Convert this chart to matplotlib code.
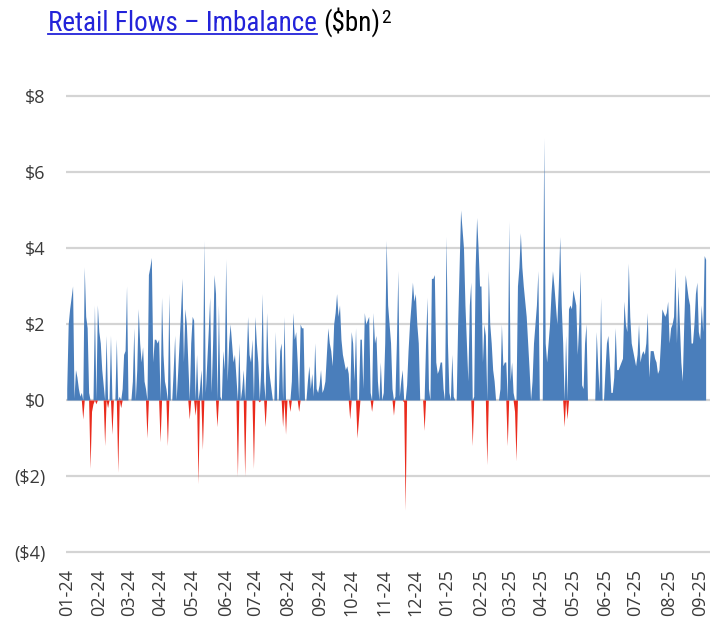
import numpy as np
import pandas as pd
import matplotlib
matplotlib.use("Agg")
import matplotlib.pyplot as plt
from matplotlib import font_manager
from matplotlib.lines import Line2D

# ---------------- data (daily retail flow imbalance, $bn) ----------------
start_date = "2024-01-02"

imbalance_jan_apr24 = [
    0.3, 2.0, 2.4, 2.7, 3.0, 0.05, 0.8, 0.6, 0.3, 0.1,
    0.2, -0.5, 3.5, 2.2, 1.9, 0.2, -1.8, -0.3, -0.1, 2.5,
    -0.1, 2.5, 1.8, 1.5, 0.8, 0.4, -1.2, 1.7, -0.2, 0.0,
    1.7, -0.9, 0.0, 0.0, 1.6, -1.9, 0.1, -0.2, 0.3, 1.2,
    1.3, 3.0, 0.0, 0.0, 0.0, 0.5, 1.9, 0.0, 0.8, 2.4,
    1.5, 1.0, 1.4, 0.5, 0.3, -1.0, 3.3, 3.5, 3.75, 1.0,
    1.6, 1.6, 1.5, 1.6, -1.1, 2.7, 1.2, 0.5, 0.3, -1.2,
    2.8,
]
imbalance_apr_jul24 = [
    0.0, 0.0, 0.8, 1.7, 0.0, 0.7, 1.5, 2.3, 3.2, 1.0,
    2.4, 2.0, 1.0, -0.5, 1.5, 2.2, 2.1, -0.4, 1.2, -2.2,
    0.3, 0.8, -1.3, 4.2, 0.2, 1.0, 1.8, 2.7, 0.2, 1.5,
    3.3, 2.8, -0.7, 2.5, 0.1, 0.0, 1.3, 0.8, 3.7, 0.5,
    1.5, 2.0, 1.5, 1.0, 1.2, 0.6, -2.0, 1.5, 0.0, 0.3,
    0.8, -2.0, 1.0, 2.2, 1.2, 1.0, 1.6, -1.8, 2.2, 1.5,
    1.0, -0.05, 0.8, 2.8, 0.5, -0.7, 2.3, 1.0, 0.6, 0.3,
    0.0, 0.0,
]
imbalance_jul_oct24 = [
    1.8, 0.0, 0.0, 1.3, 1.5, -0.7, 2.2, -0.9, 0.0, 0.0,
    -0.3, 0.5, 2.3, 1.6, 1.8, 1.0, -0.3, 2.0, 1.9, 1.9,
    0.0, 0.0, 0.5, 0.9, 0.3, 0.7, 0.1, 1.5, 0.3, 0.2,
    0.4, 0.8, 0.2, 0.3, 0.5, 1.2, 1.9, 1.5, 1.3, 0.9,
    2.0, 2.3, 2.8, 2.2, 2.5, 1.6, 1.2, 1.0, 0.8, 0.9,
    0.7, -0.5, 1.8, 1.5, 0.5, 1.9, -1.0, -0.5, 1.6, 1.6,
    0.3, 2.3, 2.0, 2.1, 2.2, 0.2, -0.3, 2.3, 1.5,
]
imbalance_nov24_feb25 = [
    1.7, 0.5, 0.0, 1.0, 0.0, 0.2, 1.5, 4.2, 2.5, 2.0,
    1.5, 0.3, -0.4, 0.1, 1.5, 3.4, 0.1, 0.5, 0.8, -0.05,
    -2.9, 0.4, 1.3, 2.0, 2.5, 3.1, 2.6, 2.8, 2.0, 1.5,
    0.0, 0.0, 0.0, -0.8, 1.5, 2.7, 0.3, 0.0, 3.2, 3.2,
    3.3, 1.0, 0.7, 0.8, 1.0, 1.0, 0.3, 0.0, 4.3, 1.5,
    0.2, 0.0, 1.2, 0.1, 0.0, 0.0, 2.0, 3.5, 5.0, 4.5,
    4.0, 2.5, 1.5, 0.5, 2.5, 3.1, -1.2, 0.1, 3.5, 4.8,
    4.0, 3.0,
]
imbalance_feb_may25 = [
    3.0, 1.0, 2.0, 1.7, -1.7, 3.4, 2.0, 1.5, 0.8, 0.5,
    0.0, 0.0, 0.0, 0.3, 2.0, 0.9, 1.0, 1.0, -1.2, 4.7,
    0.5, 1.0, 0.2, -0.3, -1.6, 3.0, 3.5, 4.4, 3.5, 3.0,
    2.6, 2.2, 1.5, 0.8, 0.0, 0.5, 1.5, 2.0, 2.5, 3.4,
    0.0, 0.0, 0.0, 6.9, 1.5, 1.0, 1.5, 2.0, 2.8, 3.4,
    3.0, 2.5, 2.0, 3.0, 4.3, 2.5, 1.5, -0.7, 1.7, -0.5,
    2.4, 2.5, 2.4, 2.9, 2.7, 2.5, 1.2, 2.0, 3.4, 0.4,
    0.3, 1.5,
]
imbalance_may_sep25 = [
    2.0, 0.0, 0.0, 0.0, 0.0, 0.0, 0.0, 1.8, 0.9, 0.2,
    2.7, 0.0, 0.0, 0.8, 1.5, 1.7, 1.0, 0.2, 0.2, 0.6,
    1.9, 0.8, 0.8, 0.9, 1.0, 1.1, 2.6, 2.0, 1.8, 3.6,
    2.2, 1.5, 1.3, 1.1, 0.9, 1.2, 2.0, 1.0, 1.2, 1.3,
    1.2, 1.5, 2.3, 0.6, 1.3, 1.3, 1.3, 1.1, 1.0, 0.7,
    0.8, 1.5, 2.4, 2.3, 2.2, 2.3, 2.6, 1.5, 1.9, 2.0,
    2.2, 3.5, 1.5, 3.0, 2.0, 1.0, 0.5, 2.0, 3.3, 3.0,
    2.7, 2.5, 1.5, 1.5, 2.0, 2.8, 3.1, 1.8, 1.6, 2.5,
    1.8, 3.8, 3.7,
]

y_ticks = [-4, -2, 0, 2, 4, 6, 8]
y_tick_labels = ["($4)", "($2)", "$0", "$2", "$4", "$6", "$8"]
title_main = "Retail Flows – Imbalance "
title_unit = "($bn)"
title_note = "2"

# ---------------- build series ----------------
values = np.array(imbalance_jan_apr24 + imbalance_apr_jul24 + imbalance_jul_oct24
                  + imbalance_nov24_feb25 + imbalance_feb_may25 + imbalance_may_sep25)
dates = pd.bdate_range(start_date, periods=len(values))
x = np.arange(len(values))

months = np.array(dates.to_period("M"))
month_start_idx = np.r_[0, np.nonzero(months[1:] != months[:-1])[0] + 1]
month_labels = [d.strftime("%m-%y") for d in dates[month_start_idx]]

# ---------------- fonts ----------------
available = {f.name for f in font_manager.fontManager.ttflist}
def pick(names):
    for n in names:
        if n in available:
            return n
    return "DejaVu Sans"

tick_font = pick(["Open Sans", "Noto Sans", "DejaVu Sans"])
title_font = pick(["Liberation Sans Narrow", "Roboto Condensed", "DejaVu Sans Condensed",
                   "Roboto", "DejaVu Sans"])

BLUE = "#4A7EBB"
RED = "#EA2A1C"
GRID = "#D4D4D4"
TEXT = "#3A3A3A"
LINK = "#2323D9"

# ---------------- figure ----------------
W, H = 720, 632
fig = plt.figure(figsize=(W / 100, H / 100), dpi=100)
px_per_unit = 38.0
ymin, ymax = -4.08, 8.08
ax_left, ax_right = 66, 710
y_zero_px = 400
ax_top_px = y_zero_px - ymax * px_per_unit
ax_bot_px = y_zero_px - ymin * px_per_unit
ax = fig.add_axes([ax_left / W, 1 - ax_bot_px / H,
                   (ax_right - ax_left) / W, (ax_bot_px - ax_top_px) / H])

pos = np.maximum(values, 0)
neg = np.minimum(values, 0)
ax.fill_between(x, pos, 0, color=BLUE, lw=0, zorder=3)
ax.fill_between(x, neg, 0, color=RED, lw=0, zorder=3)

ax.set_ylim(ymin, ymax)
ax.set_xlim(-0.5, len(values) + 2)
ax.set_yticks(y_ticks)
ax.set_yticklabels(y_tick_labels)
ax.set_xticks(month_start_idx)
ax.set_xticklabels(month_labels, rotation=90)
ax.yaxis.grid(True, color=GRID, lw=1.6, zorder=0)
ax.xaxis.grid(False)
ax.set_axisbelow(True)
for s in ax.spines.values():
    s.set_visible(False)
ax.tick_params(axis="y", length=0, pad=15, labelsize=13, labelcolor=TEXT)
ax.tick_params(axis="x", length=0, pad=10, labelsize=13, labelcolor=TEXT)
for lab in ax.get_xticklabels() + ax.get_yticklabels():
    lab.set_fontfamily(tick_font)

# ---------------- title ----------------
title_size = 19.5
fam = [title_font, "DejaVu Sans"]
base_y = 1 - 31 / H
t1 = fig.text(48 / W, base_y, title_main, fontsize=title_size, color=LINK,
              family=fam, ha="left", va="baseline")
fig.canvas.draw()
r = fig.canvas.get_renderer()
bb = t1.get_window_extent(r)
t_tmp = fig.text(48 / W, base_y, title_main.rstrip(), fontsize=title_size,
                 family=fam, ha="left", va="baseline", alpha=0)
bb2 = t_tmp.get_window_extent(r)
t_tmp.remove()
uy = (H - 33.5) / H
fig.add_artist(Line2D([bb2.x0 / W, bb2.x1 / W], [uy, uy], color=LINK, lw=1.3))
t2 = fig.text(bb.x1 / W, base_y, title_unit, fontsize=title_size, color="black",
              family=fam, ha="left", va="baseline")
fig.canvas.draw()
bb3 = t2.get_window_extent(r)
fig.text((bb3.x1 + 0.5) / W, base_y + 8 / H, title_note, fontsize=14, color="black",
         family=fam, ha="left", va="baseline")

fig.savefig("out.png", dpi=100)
